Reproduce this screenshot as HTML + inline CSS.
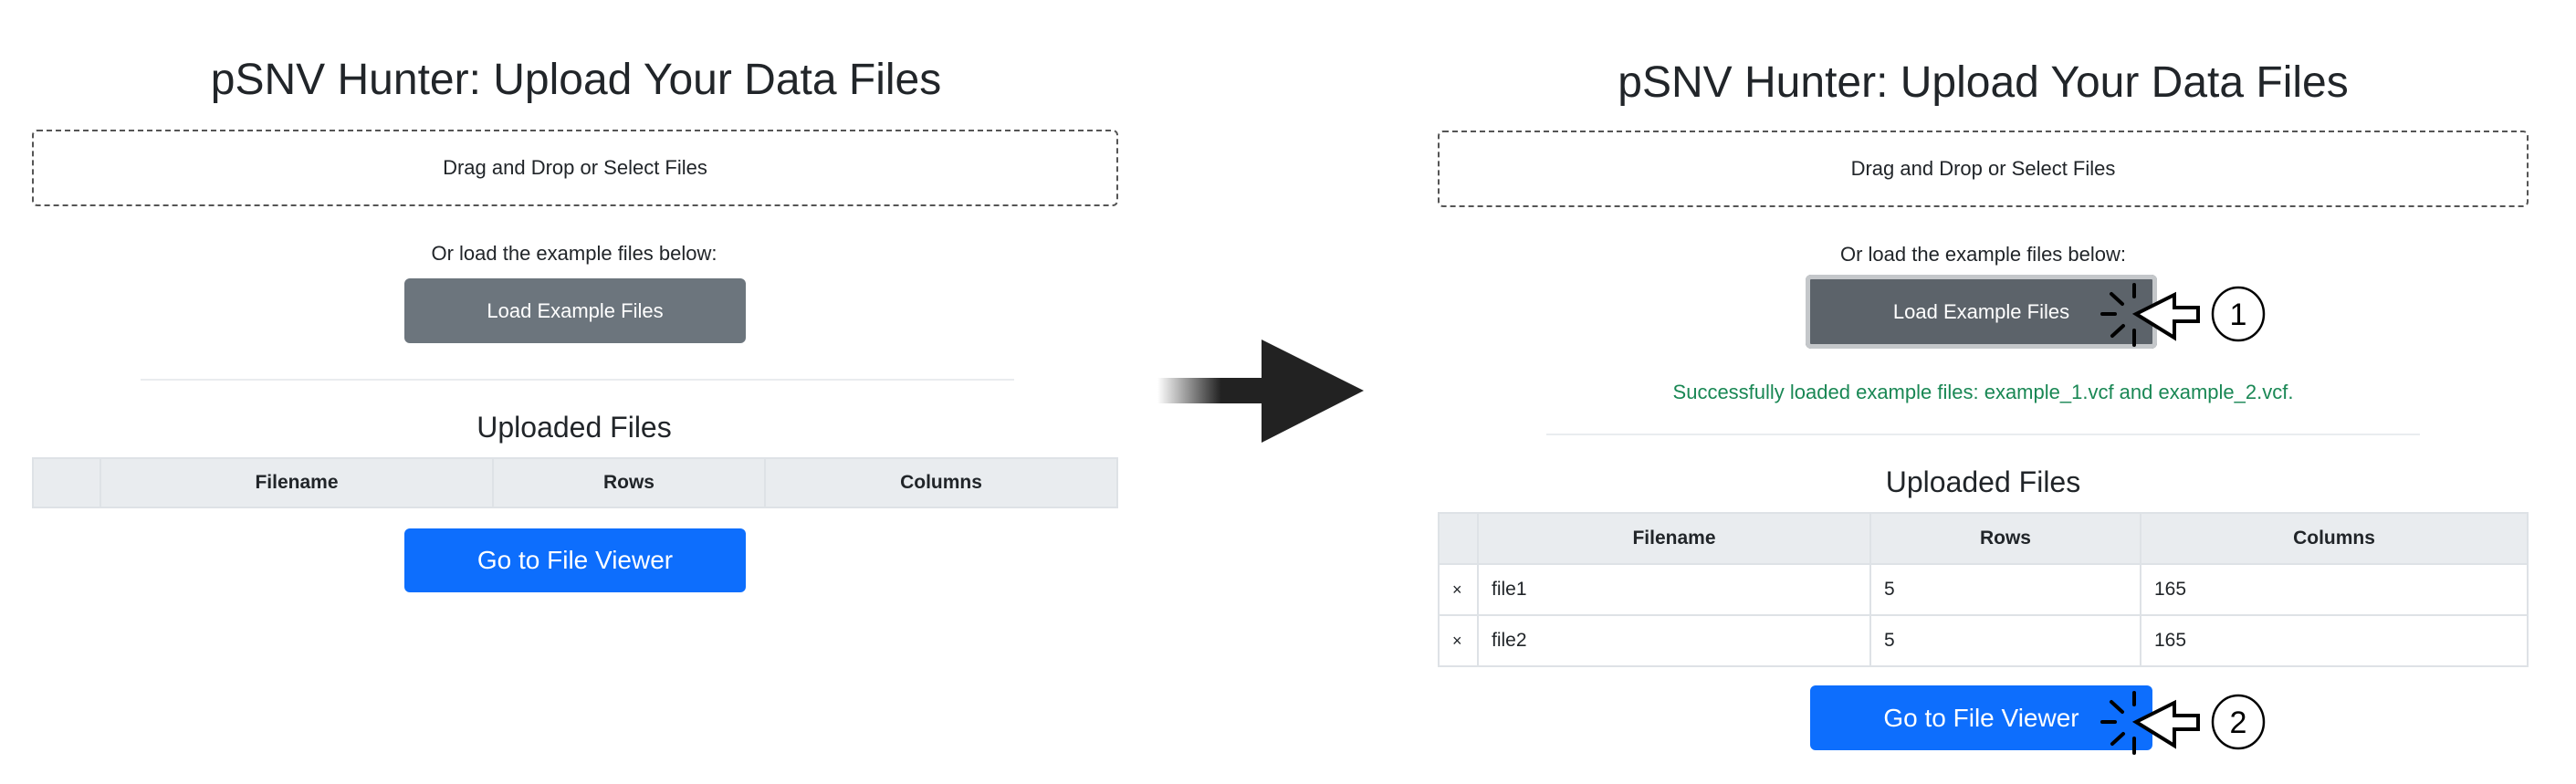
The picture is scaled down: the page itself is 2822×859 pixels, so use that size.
<!DOCTYPE html>
<html><head><meta charset="utf-8"><style>
body{margin:0;width:2822px;height:859px;background:#fff;position:relative;overflow:hidden;font-family:"Liberation Sans",sans-serif;color:#212529}
.a{position:absolute}
.c{text-align:center}
.t{font-size:48px;font-weight:500;line-height:60px}
.dz{border:2px dashed #555;border-radius:6px;box-sizing:border-box;display:flex;align-items:center;justify-content:center;font-size:22px}
.btn{border-radius:6px;color:#fff;display:flex;align-items:center;justify-content:center}
.hr{height:2px;background:#e9ecef}
table{border-collapse:collapse;font-size:21px}
td,th{border:2px solid #dee2e6;padding:0 14px}
th{background:#e9ecef;font-weight:bold;text-align:center}
</style></head><body>
<!-- left -->
<div class="a c t" style="left:34px;top:58px;width:1194px">pSNV Hunter: Upload Your Data Files</div>
<div class="a dz" style="left:35px;top:142px;width:1190px;height:84px">Drag and Drop or Select Files</div>
<div class="a c" style="left:34px;top:265px;width:1190px;font-size:22px">Or load the example files below:</div>
<div class="a btn" style="left:443px;top:305px;width:374px;height:71px;background:#6c757d;font-size:22px">Load Example Files</div>
<div class="a hr" style="left:154px;top:415px;width:957px"></div>
<div class="a c" style="left:34px;top:450px;width:1190px;font-size:32px;font-weight:500">Uploaded Files</div>
<table class="a" style="left:35px;top:501px;width:1190px;height:56px">
<tr><th style="width:44px"></th><th style="width:400px">Filename</th><th style="width:268px">Rows</th><th>Columns</th></tr></table>
<div class="a btn" style="left:443px;top:579px;width:374px;height:70px;background:#0d6efd;font-size:28px">Go to File Viewer</div>
<!-- big arrow -->
<svg class="a" style="left:0;top:0" width="2822" height="859">
<defs><linearGradient id="g" x1="0" x2="1"><stop offset="0" stop-color="#222" stop-opacity="0"/><stop offset="0.6" stop-color="#222"/></linearGradient></defs>
<rect x="1268" y="414" width="116" height="28" fill="url(#g)"/>
<polygon points="1382,372 1494,428 1382,485" fill="#222"/>
</svg>
<!-- right -->
<div class="a c t" style="left:1575px;top:61px;width:1195px">pSNV Hunter: Upload Your Data Files</div>
<div class="a dz" style="left:1575px;top:143px;width:1195px;height:84px">Drag and Drop or Select Files</div>
<div class="a c" style="left:1575px;top:266px;width:1195px;font-size:22px">Or load the example files below:</div>
<div class="a btn" style="left:1978px;top:301px;width:385px;height:81px;background:#5c636a;box-shadow:0 0 0 5px #c4c7ca inset;font-size:22px">Load Example Files</div>
<div class="a c" style="left:1575px;top:417px;width:1195px;font-size:22px;color:#198754">Successfully loaded example files: example_1.vcf and example_2.vcf.</div>
<div class="a hr" style="left:1694px;top:475px;width:957px"></div>
<div class="a c" style="left:1575px;top:510px;width:1195px;font-size:32px;font-weight:500">Uploaded Files</div>
<table class="a" style="left:1575px;top:561px;width:1195px;height:170px">
<tr style="height:56px"><th style="width:13px"></th><th style="width:400px">Filename</th><th style="width:266px">Rows</th><th>Columns</th></tr>
<tr><td style="font-size:18px">×</td><td>file1</td><td>5</td><td>165</td></tr>
<tr><td style="font-size:18px">×</td><td>file2</td><td>5</td><td>165</td></tr></table>
<div class="a btn" style="left:1983px;top:751px;width:375px;height:71px;background:#0d6efd;font-size:28px">Go to File Viewer</div>
<svg class="a" style="left:0;top:0" width="2822" height="859">
<g stroke="#000" stroke-width="4" fill="none" stroke-linecap="round">
<line x1="2338" y1="312" x2="2338" y2="325"/>
<line x1="2338" y1="362" x2="2338" y2="378"/>
<line x1="2303" y1="344" x2="2317" y2="344"/>
<line x1="2313" y1="322" x2="2325" y2="333"/>
<line x1="2314" y1="368" x2="2326" y2="357"/>
<polygon points="2340,344 2382,323 2382,337 2408,337 2408,352 2382,352 2382,370" fill="#fff" stroke-linejoin="miter"/>
<ellipse cx="2452" cy="344" rx="28" ry="29" stroke-width="2.5"/>
</g>
<text x="2452" y="356" font-size="34" text-anchor="middle" font-family="Liberation Sans">1</text>
<g stroke="#000" stroke-width="4" fill="none" stroke-linecap="round" transform="translate(0,447)">
<line x1="2338" y1="312" x2="2338" y2="325"/>
<line x1="2338" y1="362" x2="2338" y2="378"/>
<line x1="2303" y1="344" x2="2317" y2="344"/>
<line x1="2313" y1="322" x2="2325" y2="333"/>
<line x1="2314" y1="368" x2="2326" y2="357"/>
<polygon points="2340,344 2382,323 2382,337 2408,337 2408,352 2382,352 2382,370" fill="#fff"/>
<ellipse cx="2452" cy="344" rx="28" ry="29" stroke-width="2.5"/>
</g>
<text x="2452" y="803" font-size="34" text-anchor="middle" font-family="Liberation Sans">2</text>
</svg>
</body></html>
